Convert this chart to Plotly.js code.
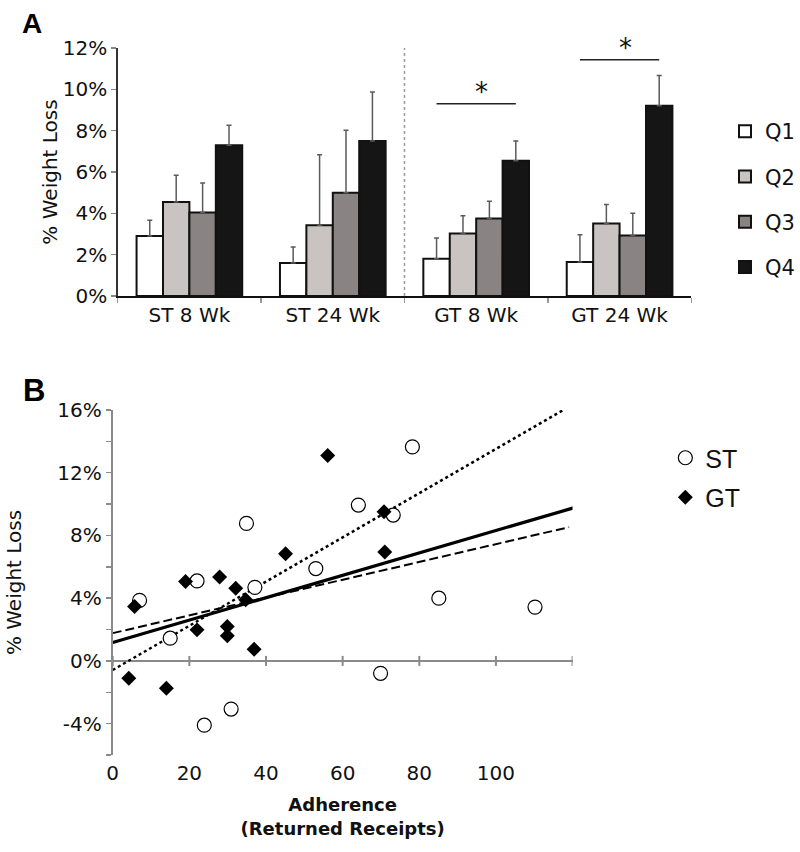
<!DOCTYPE html>
<html>
<head>
<meta charset="utf-8">
<script src="https://cdn.plot.ly/plotly-3.0.1.min.js"></script>
<style>html,body{margin:0;padding:0;background:#fff;}#chart{width:800px;height:852px;}</style>
</head>
<body>
<div id="chart"></div>
<script>
// ---- Panel A data ----
const categories = ['ST 8 Wk', 'ST 24 Wk', 'GT 8 Wk', 'GT 24 Wk'];
const quartiles = ['Q1', 'Q2', 'Q3', 'Q4'];
const q1Values = [2.9, 1.6, 1.8, 1.65];
const q2Values = [4.55, 3.42, 3.03, 3.51];
const q3Values = [4.04, 4.99, 3.75, 2.93];
const q4Values = [7.3, 7.5, 6.54, 9.21];
const q1Err = [0.77, 0.77, 1.01, 1.31];
const q2Err = [1.29, 3.41, 0.85, 0.92];
const q3Err = [1.43, 3.03, 0.84, 1.07];
const q4Err = [0.96, 2.37, 0.96, 1.46];
const sigCategories = [2, 3];          // category index of significant groups
const sigHeights = [9.3, 11.43];
const yTicksA = [0, 2, 4, 6, 8, 10, 12];
const yTickLabelsA = ['0%', '2%', '4%', '6%', '8%', '10%', '12%'];

// ---- Panel B data ----
const stAdherence = [7.0, 15.0, 22.0, 23.9, 30.9, 34.9, 37.1, 53.0, 64.1, 69.9, 73.2, 78.2, 85.1, 110.2];
const stWeightLoss = [3.86, 1.45, 5.1, -4.1, -3.07, 8.77, 4.69, 5.89, 9.94, -0.79, 9.3, 13.65, 4.0, 3.43];
const gtAdherence = [4.2, 5.7, 14.0, 19.0, 22.0, 27.9, 29.9, 29.9, 32.1, 34.7, 36.9, 45.1, 56.1, 70.8, 71.0];
const gtWeightLoss = [-1.11, 3.47, -1.75, 5.07, 1.98, 5.35, 2.2, 1.6, 4.63, 3.9, 0.75, 6.83, 13.1, 9.51, 6.95];
const fitAllX = [0, 120.4];
const fitAllY = [1.17, 9.77];
const fitStX = [0, 119.1];
const fitStY = [1.77, 8.53];
const fitGtX = [0, 117.6];
const fitGtY = [-0.58, 16.0];
const xTicksB = [0, 20, 40, 60, 80, 100, 120];
const xTickLabelsB = ['0', '20', '40', '60', '80', '100', ''];
const yTicksB = [-4, 0, 4, 8, 12, 16];
const yTickLabelsB = ['-4%', '0%', '4%', '8%', '12%', '16%'];
const yMinorTicksB = [-6, -2, 2, 6, 10, 14];

const FONT = 'DejaVu Sans';
const barValues = [q1Values, q2Values, q3Values, q4Values];
const barErrs = [q1Err, q2Err, q3Err, q4Err];
const barColors = ['#ffffff', '#c9c4c1', '#898483', '#151515'];

const traces = [];
quartiles.forEach((q, i) => {
  traces.push({
    type: 'bar', name: q, x: categories, y: barValues[i],
    xaxis: 'x', yaxis: 'y', legend: 'legend', legendgroup: q,
    marker: {color: barColors[i], line: {color: '#111111', width: 2}},
    error_y: {type: 'data', array: barErrs[i], arrayminus: barErrs[i].map(() => 0), symmetric: false,
              color: '#5a5a5a', thickness: 1.5, width: 2.5}
  });
});
traces.push({
  type: 'scatter', mode: 'lines', name: 'All fit', x: fitAllX, y: fitAllY,
  xaxis: 'x2', yaxis: 'y2', showlegend: false, line: {color: '#000', width: 3.2}
});
traces.push({
  type: 'scatter', mode: 'lines', name: 'ST fit', x: fitStX, y: fitStY,
  xaxis: 'x2', yaxis: 'y2', showlegend: false, line: {color: '#000', width: 2, dash: '9px,4px'}
});
traces.push({
  type: 'scatter', mode: 'lines', name: 'GT fit', x: fitGtX, y: fitGtY,
  xaxis: 'x2', yaxis: 'y2', showlegend: false, line: {color: '#000', width: 2.5, dash: 'dot'}
});
traces.push({
  type: 'scatter', mode: 'markers', name: 'ST', x: stAdherence, y: stWeightLoss,
  xaxis: 'x2', yaxis: 'y2', legend: 'legend2', legendgroup: 'ST',
  marker: {symbol: 'circle', size: 14, color: '#ffffff', line: {color: '#000', width: 1.2}}
});
traces.push({
  type: 'scatter', mode: 'markers', name: 'GT', x: gtAdherence, y: gtWeightLoss,
  xaxis: 'x2', yaxis: 'y2', legend: 'legend2', legendgroup: 'GT',
  marker: {symbol: 'diamond', size: 11.5, color: '#000000', line: {color: '#000', width: 0}}
});

const shapes = [];
// dashed divider between ST and GT groups
shapes.push({type: 'line', xref: 'x', yref: 'y', x0: 1.5, x1: 1.5, y0: 0, y1: 12,
  line: {color: '#9a9a9a', width: 1.5, dash: '3px,3px'}});
// significance bars
const halfSpan = 0.2765;
const annotations = [];
sigCategories.forEach((c, i) => {
  shapes.push({type: 'line', xref: 'x', yref: 'y', x0: c - halfSpan, x1: c + halfSpan,
    y0: sigHeights[i], y1: sigHeights[i], line: {color: '#222', width: 1.5}});
  annotations.push({xref: 'x', yref: 'y', x: c + 0.04, y: sigHeights[i], text: '*', showarrow: false,
    xanchor: 'center', yanchor: 'middle', yshift: 12, font: {family: FONT, size: 26, color: '#111'}});
});
// crossing ticks on the zero line of panel B
xTicksB.forEach(v => {
  shapes.push({type: 'line', xref: 'x2', yref: 'y2', ysizemode: 'pixel', yanchor: 0,
    x0: v, x1: v, y0: -5, y1: 5, line: {color: '#8a8a8a', width: 2}});
});
annotations.push({xref: 'paper', yref: 'paper', x: 0.025, y: 1 - 23 / 852, text: '<b>A</b>',
  showarrow: false, xanchor: 'left', yanchor: 'middle', font: {family: 'Liberation Sans', size: 28, color: '#000'}});
annotations.push({xref: 'paper', yref: 'paper', x: 0.026, y: 1 - 390 / 852, text: '<b>B</b>',
  showarrow: false, xanchor: 'left', yanchor: 'middle', font: {family: 'Liberation Sans', size: 31, color: '#000'}});

const layout = {
  width: 800, height: 852,
  margin: {l: 0, r: 0, t: 0, b: 0},
  paper_bgcolor: '#fff', plot_bgcolor: '#fff',
  font: {family: FONT, color: '#222'},
  barmode: 'group', bargap: 0.263, bargroupgap: 0,
  showlegend: true,
  xaxis: {
    domain: [118 / 800, 693 / 800], anchor: 'y', type: 'category',
    showline: true, linecolor: '#111', linewidth: 2,
    ticks: 'outside', tickson: 'boundaries', ticklen: 5, tickcolor: '#999', tickwidth: 1.5,
    tickfont: {family: FONT, size: 20, color: '#111'}, showgrid: false, zeroline: false, fixedrange: true
  },
  yaxis: {
    domain: [1 - 296 / 852, 1 - 48 / 852], anchor: 'x', range: [0, 12],
    tickvals: yTicksA, ticktext: yTickLabelsA,
    showline: true, linecolor: '#333', linewidth: 1.5,
    ticks: 'outside', ticklen: 5, tickcolor: '#888', tickwidth: 1.5,
    tickfont: {family: FONT, size: 20, color: '#111'}, showgrid: false, zeroline: false,
    title: {text: '% Weight Loss', font: {family: FONT, size: 20, color: '#111'}, standoff: 0}
  },
  xaxis2: {
    domain: [113 / 800, 574 / 800], anchor: 'y2', range: [0, 120],
    tickvals: xTicksB, ticktext: xTickLabelsB, ticks: '', showline: false, ticklabelstandoff: 4,
    tickfont: {family: FONT, size: 20, color: '#111'}, showgrid: false, zeroline: false,
    title: {text: '<b>Adherence</b><br><b>(Returned Receipts)</b>', font: {family: FONT, size: 18, color: '#111'}, standoff: 14}
  },
  yaxis2: {
    domain: [1 - 755 / 852, 1 - 410 / 852], anchor: 'x2', range: [-6, 16],
    tickvals: yTicksB, ticktext: yTickLabelsB,
    showline: true, linecolor: '#8a8a8a', linewidth: 2,
    ticks: 'outside', ticklen: 5, tickcolor: '#8a8a8a', tickwidth: 1.5,
    minor: {tickvals: yMinorTicksB, ticks: 'outside', ticklen: 5, tickcolor: '#8a8a8a', tickwidth: 1.5},
    tickfont: {family: FONT, size: 20, color: '#111'}, showgrid: false,
    zeroline: true, zerolinecolor: '#8a8a8a', zerolinewidth: 2,
    title: {text: '% Weight Loss', font: {family: FONT, size: 20, color: '#111'}, standoff: 30}
  },
  legend: {
    x: 727 / 800, y: 1 - 111 / 852, xanchor: 'left', yanchor: 'top',
    font: {family: FONT, size: 21, color: '#111'}, tracegroupgap: 15, bgcolor: 'rgba(0,0,0,0)'
  },
  legend2: {
    x: 667 / 800, y: 1 - 435 / 852, xanchor: 'left', yanchor: 'top',
    font: {family: 'Liberation Sans', size: 25, color: '#111'}, tracegroupgap: 4, bgcolor: 'rgba(0,0,0,0)'
  },
  shapes: shapes,
  annotations: annotations
};

Plotly.newPlot('chart', traces, layout, {displayModeBar: false, staticPlot: true});
</script>
</body>
</html>
